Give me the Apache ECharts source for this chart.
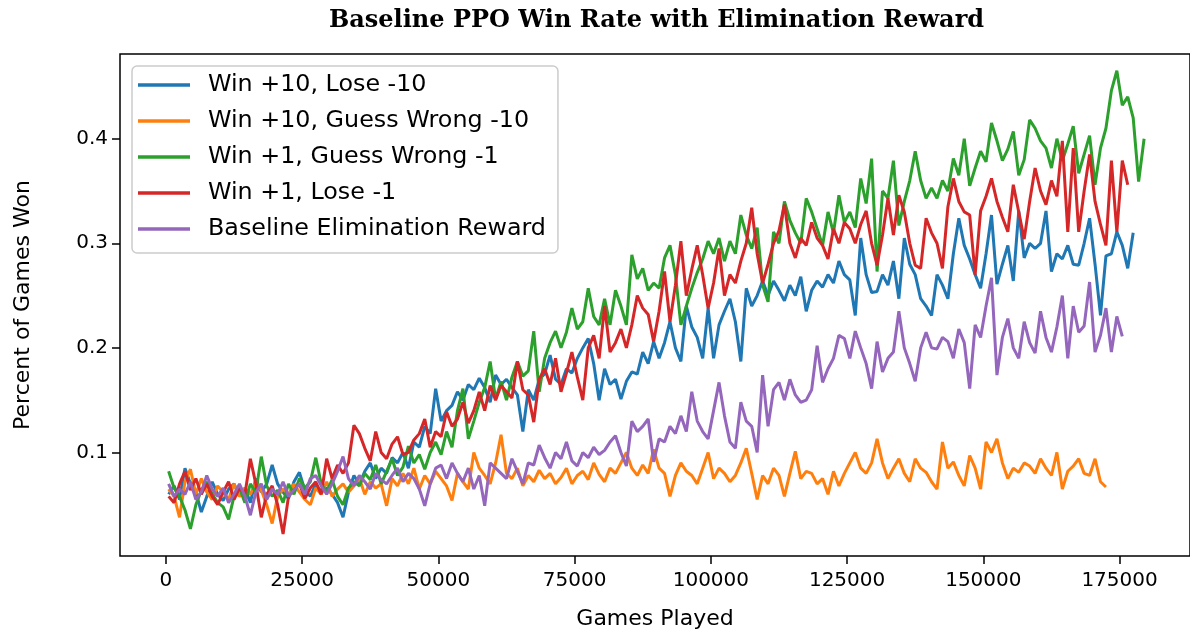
<!DOCTYPE html>
<html>
<head>
<meta charset="utf-8">
<script src="https://cdn.jsdelivr.net/npm/echarts@6.0.0/dist/echarts.min.js"></script>
<style>
body{margin:0;background:#fff;}
#main{width:1190px;height:635px;}
</style>
</head>
<body>
<div id="main"></div>
<script>
// games played at the first point, then one point every 1000 games
var firstGame = 500;
var step = 1000;

var names = ['Win +10, Lose -10', 'Win +10, Guess Wrong -10', 'Win +1, Guess Wrong -1', 'Win +1, Lose -1', 'Baseline Elimination Reward'];
var xTicks = [0, 25000, 50000, 75000, 100000, 125000, 150000, 175000];
var yTicks = [0.1, 0.2, 0.3, 0.4];

var win10lose10 = [
	.06, .068, .055, .085, .07, .062, .043, .058, .072, .06,
	.054, .065, .07, .058, .066, .052, .075, .062, .07, .088,
	.07, .062, .056, .072, .081, .064, .058, .07, .062, .066,
	.06, .052, .038, .062, .078, .07, .082, .09, .075, .085,
	.08, .095, .09, .1, .085, .11, .105, .125, .118, .161,
	.13, .14, .145, .158, .15, .165, .16, .171, .162, .148,
	.174, .165, .17, .162, .155, .12, .16, .15, .17, .175,
	.193, .17, .165, .18, .176, .19, .2, .209, .185, .15,
	.18, .165, .17, .151, .168, .177, .175, .196, .185, .206,
	.19, .205, .225, .2, .187, .24, .22, .21, .19, .238,
	.19, .222, .235, .247, .225, .187, .257, .24, .25, .264,
	.25, .264, .255, .245, .26, .25, .268, .235, .255, .264,
	.258, .27, .262, .283, .27, .265, .231, .305, .27, .253,
	.254, .27, .26, .283, .247, .305, .28, .27, .247, .24,
	.231, .27, .26, .247, .29, .324, .298, .285, .27, .257,
	.29, .327, .261, .28, .298, .264, .331, .286, .3, .295,
	.3, .331, .273, .29, .285, .298, .28, .279, .3, .324,
	.28, .231, .288, .29, .311, .298, .276, .31
];
var win10guess10 = [
	.065, .058, .038, .072, .084, .06, .075, .062, .055, .068,
	.062, .055, .07, .058, .066, .06, .072, .064, .05, .032,
	.058, .065, .06, .07, .062, .055, .05, .066, .06, .072,
	.058, .065, .07, .062, .068, .075, .06, .072, .066, .07,
	.049, .075, .068, .08, .07, .085, .065, .078, .07, .082,
	.075, .068, .054, .08, .072, .065, .1, .085, .078, .07,
	.09, .117, .08, .075, .085, .068, .078, .072, .083, .075,
	.08, .07, .076, .085, .07, .078, .082, .074, .09, .079,
	.072, .085, .08, .09, .1, .085, .078, .088, .08, .103,
	.085, .08, .058, .078, .09, .082, .078, .07, .085, .1,
	.075, .085, .08, .072, .078, .09, .104, .08, .055, .078,
	.07, .085, .078, .058, .08, .101, .075, .082, .08, .07,
	.075, .06, .082, .068, .08, .09, .1, .085, .08, .09,
	.113, .09, .075, .085, .094, .08, .072, .094, .085, .081,
	.072, .065, .11, .085, .091, .078, .068, .097, .085, .065,
	.11, .1, .113, .09, .075, .085, .081, .09, .087, .08,
	.094, .085, .078, .1, .065, .082, .087, .094, .08, .078,
	.094, .072, .067
];
var win1guess1 = [
	.082, .066, .058, .045, .027, .05, .064, .072, .06, .052,
	.048, .036, .058, .066, .052, .07, .062, .096, .068, .058,
	.064, .052, .07, .06, .075, .066, .072, .095, .07, .062,
	.074, .058, .05, .066, .072, .068, .08, .074, .088, .07,
	.082, .094, .078, .086, .106, .09, .098, .084, .1, .11,
	.098, .12, .105, .14, .161, .113, .13, .148, .162, .187,
	.151, .168, .15, .172, .187, .173, .178, .216, .158, .19,
	.205, .216, .2, .215, .238, .218, .225, .257, .23, .222,
	.247, .222, .255, .24, .222, .289, .266, .276, .255, .262,
	.257, .286, .298, .27, .222, .24, .257, .272, .285, .302,
	.29, .305, .283, .302, .29, .327, .308, .295, .315, .26,
	.244, .311, .3, .34, .322, .31, .3, .343, .33, .314,
	.298, .33, .31, .346, .32, .33, .315, .362, .338, .381,
	.273, .35, .343, .379, .317, .34, .36, .388, .36, .343,
	.353, .343, .36, .35, .381, .365, .4, .355, .372, .388,
	.378, .415, .398, .379, .39, .407, .365, .38, .418, .41,
	.398, .391, .372, .4, .379, .395, .412, .367, .385, .403,
	.356, .391, .41, .446, .465, .432, .44, .42, .359, .4
];
var win1lose1 = [
	.058, .052, .07, .082, .064, .075, .06, .07, .058, .05,
	.062, .072, .055, .066, .06, .094, .07, .038, .06, .068,
	.05, .022, .058, .064, .07, .056, .066, .072, .06, .094,
	.075, .088, .08, .09, .126, .118, .104, .092, .12, .1,
	.094, .108, .115, .098, .1, .112, .118, .132, .105, .12,
	.115, .139, .125, .132, .148, .128, .14, .158, .14, .164,
	.15, .164, .158, .152, .187, .16, .155, .129, .17, .18,
	.165, .19, .158, .176, .196, .172, .15, .2, .212, .19,
	.24, .196, .205, .218, .2, .222, .25, .238, .232, .206,
	.235, .273, .225, .26, .302, .25, .275, .298, .27, .238,
	.262, .295, .25, .27, .262, .283, .3, .334, .29, .262,
	.28, .3, .312, .337, .3, .286, .305, .298, .32, .305,
	.298, .285, .314, .3, .32, .314, .3, .318, .331, .3,
	.279, .308, .343, .308, .346, .33, .3, .279, .276, .324,
	.31, .3, .276, .335, .362, .34, .33, .327, .27, .331,
	.345, .362, .34, .325, .311, .356, .33, .304, .34, .372,
	.35, .337, .36, .345, .398, .311, .391, .311, .35, .385,
	.34, .318, .298, .379, .311, .379, .356
];
var baseline = [
	.07, .058, .065, .06, .072, .055, .062, .078, .065, .058,
	.066, .052, .06, .07, .058, .04, .062, .07, .055, .065,
	.06, .072, .058, .064, .07, .06, .075, .078, .068, .06,
	.07, .082, .096, .075, .068, .078, .072, .065, .08, .074,
	.07, .078, .085, .072, .08, .075, .065, .049, .07, .085,
	.088, .075, .09, .08, .072, .085, .065, .078, .049, .09,
	.085, .08, .075, .094, .082, .07, .09, .088, .107, .095,
	.085, .1, .094, .11, .092, .087, .1, .095, .105, .098,
	.102, .11, .116, .1, .087, .13, .12, .125, .132, .091,
	.113, .11, .125, .118, .135, .12, .158, .13, .12, .113,
	.14, .167, .135, .11, .104, .148, .13, .125, .1, .174,
	.125, .16, .167, .15, .17, .155, .148, .15, .16, .202,
	.167, .18, .19, .212, .209, .19, .216, .2, .185, .161,
	.206, .177, .19, .196, .235, .2, .185, .168, .2, .215,
	.2, .199, .21, .206, .19, .218, .205, .161, .222, .21,
	.24, .267, .174, .21, .228, .2, .19, .225, .205, .195,
	.235, .21, .196, .22, .25, .19, .24, .215, .221, .263,
	.196, .212, .238, .196, .23, .211
];

var colors = ['#1f77b4', '#ff7f0e', '#2ca02c', '#d62728', '#9467bd'];
var allValues = [win10lose10, win10guess10, win1guess1, win1lose1, baseline];

function toPoints(vals){
	return vals.map(function(v, i){ return [firstGame + i * step, v]; });
}

var series = [];
for (var k = 0; k < allValues.length; k++){
	series.push({
		name: names[k],
		type: 'line',
		data: toPoints(allValues[k]),
		showSymbol: false,
		lineStyle: {width: 3, color: colors[k]},
		itemStyle: {color: colors[k]},
		emphasis: {disabled: true}
	});
}

var font = 'DejaVu Sans';
var option = {
	animation: false,
	color: colors,
	title: {
		text: 'Baseline PPO Win Rate with Elimination Reward',
		left: 329,
		top: 9,
		padding: 0,
		textStyle: {fontFamily: 'DejaVu Serif', fontWeight: 'bold', fontSize: 24, color: '#000'}
	},
	legend: {
		orient: 'vertical',
		left: 132,
		top: 66,
		padding: [7, 12, 12, 6],
		itemGap: 12,
		itemWidth: 52,
		itemHeight: 3.5,
		icon: 'rect',
		backgroundColor: 'rgba(255,255,255,0.8)',
		borderColor: '#cccccc',
		borderWidth: 1.5,
		borderRadius: 5,
		textStyle: {fontFamily: font, fontSize: 23.8, color: '#000', lineHeight: 24, padding: [0, 0, 0, 13]},
		data: names
	},
	grid: {
		left: 120,
		top: 54,
		width: 1072,
		height: 504,
		show: true,
		borderColor: '#000',
		borderWidth: 1.5,
		containLabel: false
	},
	xAxis: {
		type: 'value',
		min: -8425,
		max: 187925,
		name: 'Games Played',
		nameLocation: 'middle',
		nameGap: 52,
		nameTextStyle: {fontFamily: font, fontSize: 22, color: '#000'},
		axisLine: {show: false, onZero: false},
		splitLine: {show: false},
		axisTick: {show: true, length: 8, customValues: xTicks, lineStyle: {color: '#000', width: 1.5}},
		axisLabel: {
			customValues: xTicks, margin: 15, fontFamily: font, fontSize: 20, color: '#000',
			formatter: function(v){ return String(v); }
		}
	},
	yAxis: {
		type: 'value',
		min: 0.001,
		max: 0.481,
		name: 'Percent of Games Won',
		nameLocation: 'middle',
		nameGap: 86,
		nameTextStyle: {fontFamily: font, fontSize: 22, color: '#000'},
		axisLine: {show: false, onZero: false},
		splitLine: {show: false},
		axisTick: {show: true, length: 8, customValues: yTicks, lineStyle: {color: '#000', width: 1.5}},
		axisLabel: {
			customValues: yTicks, margin: 12, fontFamily: font, fontSize: 20, color: '#000',
			formatter: function(v){ return v.toFixed(1); }
		}
	},
	series: series
};

var myChart = echarts.init(document.getElementById('main'));
myChart.setOption(option);
</script>
</body>
</html>
